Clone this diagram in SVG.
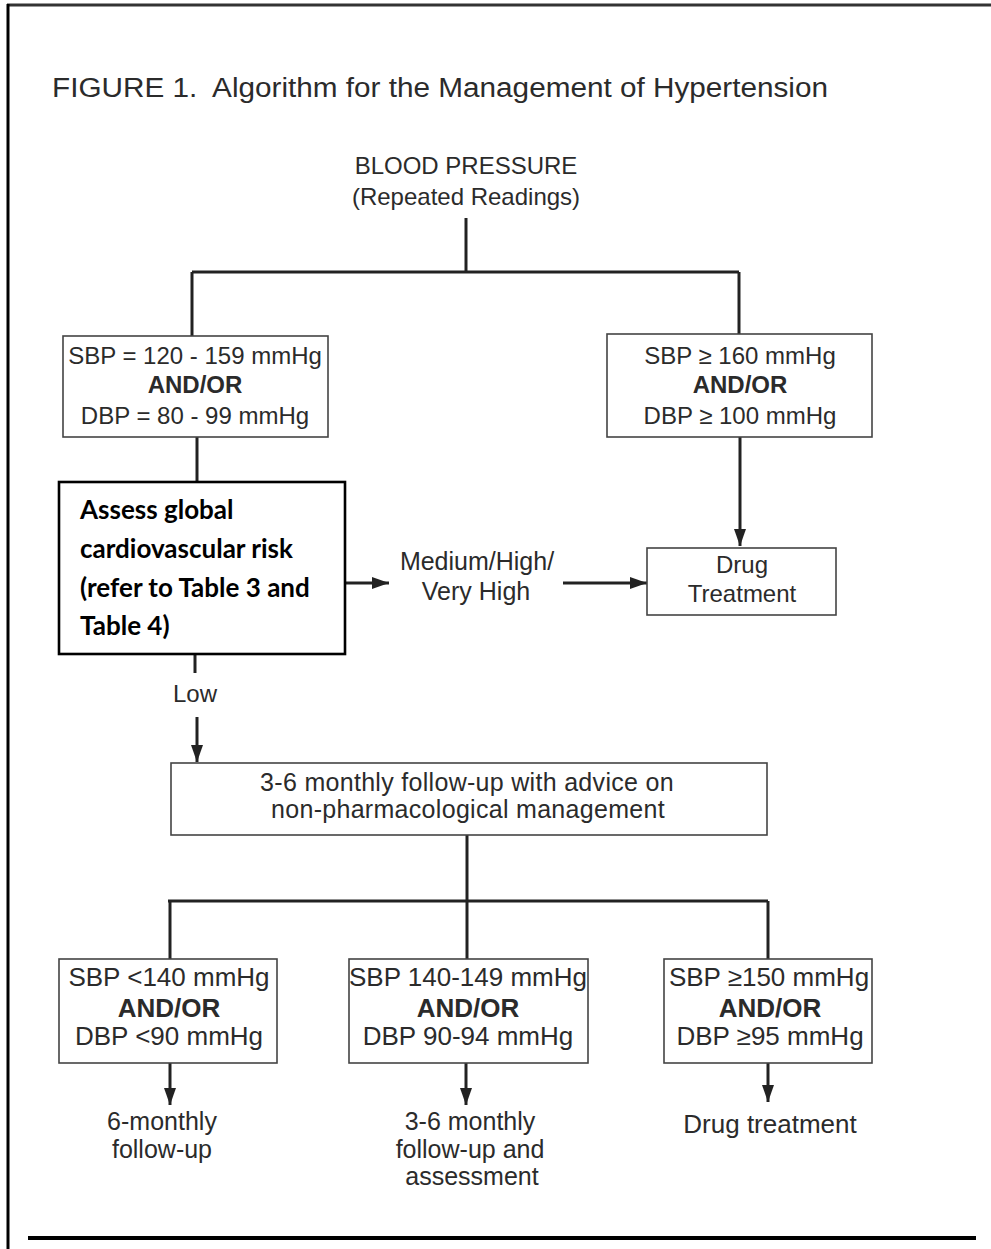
<svg xmlns="http://www.w3.org/2000/svg" width="991" height="1249" viewBox="0 0 991 1249">
  <defs>
    <marker id="arrow" markerUnits="userSpaceOnUse" markerWidth="18" markerHeight="14" refX="17" refY="7" orient="auto">
      <path d="M0,1 L17,7 L0,13 Z" fill="#222"/>
    </marker>
    <style>
      .t { font-family: "Liberation Sans", Arial, sans-serif; fill: #2b2b2b; text-anchor: middle; }
      .b { font-weight: bold; }
      .box { fill: #fff; stroke: #444; stroke-width: 1.6; }
      .conn { fill: none; stroke: #222; stroke-width: 3; }
      .assess { font-family: Lato, "Open Sans", sans-serif; font-weight: bold; fill: #000; font-size: 26px; }
    </style>
  </defs>

  <rect width="991" height="1249" fill="#fff"/>

  <!-- frame -->
  <g id="frame">
    <line x1="7" y1="5" x2="991" y2="5" stroke="#333" stroke-width="3"/>
    <line x1="8" y1="4" x2="8" y2="1249" stroke="#000" stroke-width="3"/>
    <line x1="28" y1="1238" x2="976" y2="1238" stroke="#000" stroke-width="4"/>
  </g>

  <text id="title" class="t" x="52" y="97" font-size="27" style="text-anchor:start" xml:space="preserve" textLength="776" lengthAdjust="spacingAndGlyphs">FIGURE 1.  Algorithm for the Management of Hypertension</text>

  <!-- connectors -->
  <g id="connectors" class="conn">
    <path d="M466,218 V272"/>
    <path d="M192,272 H739"/>
    <path d="M192,272 V336"/>
    <path d="M739,272 V334"/>
    <path d="M197,437 V482"/>
    <path d="M740,437 V546" marker-end="url(#arrow)"/>
    <path d="M345,583 H389" marker-end="url(#arrow)"/>
    <path d="M563,583 H647" marker-end="url(#arrow)"/>
    <path d="M195,654 V673"/>
    <path d="M197,717 V762" marker-end="url(#arrow)"/>
    <path d="M467,835 V959"/>
    <path d="M168,901 H768"/>
    <path d="M170,901 V959"/>
    <path d="M768,901 V959"/>
    <path d="M170,1063 V1105" marker-end="url(#arrow)"/>
    <path d="M466,1063 V1105" marker-end="url(#arrow)"/>
    <path d="M768,1063 V1102" marker-end="url(#arrow)"/>
  </g>

  <!-- nodes -->
  <g id="blood-pressure" class="t" font-size="24">
    <text x="466" y="174">BLOOD PRESSURE</text>
    <text x="466" y="205">(Repeated Readings)</text>
  </g>

  <g id="sbp-120-159">
    <rect class="box" x="63" y="336" width="265" height="101"/>
    <g class="t" font-size="24">
      <text x="195" y="364">SBP = 120 - 159 mmHg</text>
      <text x="195" y="393" class="t b">AND/OR</text>
      <text x="195" y="424">DBP = 80 - 99 mmHg</text>
    </g>
  </g>

  <g id="sbp-160">
    <rect class="box" x="607" y="334" width="265" height="103"/>
    <g class="t" font-size="24">
      <text x="740" y="364">SBP ≥ 160 mmHg</text>
      <text x="740" y="393" class="t b">AND/OR</text>
      <text x="740" y="424">DBP ≥ 100 mmHg</text>
    </g>
  </g>

  <g id="assess-risk">
    <rect x="59" y="482" width="286" height="172" fill="#fff" stroke="#000" stroke-width="2.6"/>
    <text class="assess" x="80" y="519">Assess global</text>
    <text class="assess" x="80" y="558">cardiovascular risk</text>
    <text class="assess" x="80" y="597">(refer to Table 3 and</text>
    <text class="assess" x="80" y="635">Table 4)</text>
  </g>

  <g id="risk-high" class="t" font-size="25">
    <text x="477" y="570">Medium/High/</text>
    <text x="476" y="600">Very High</text>
  </g>

  <g id="drug-treatment">
    <rect class="box" x="647" y="548" width="189" height="67"/>
    <g class="t" font-size="24">
      <text x="742" y="573">Drug</text>
      <text x="742" y="602">Treatment</text>
    </g>
  </g>

  <g id="risk-low" class="t" font-size="24">
    <text x="195" y="702">Low</text>
  </g>

  <g id="follow-up">
    <rect class="box" x="171" y="763" width="596" height="72"/>
    <g class="t" font-size="25" letter-spacing="0.3">
      <text x="467" y="791">3-6 monthly follow-up with advice on</text>
      <text x="468" y="818">non-pharmacological management</text>
    </g>
  </g>

  <g id="bp-below-140">
    <rect class="box" x="59" y="959" width="218" height="104"/>
    <g class="t" font-size="26">
      <text x="169" y="986">SBP &lt;140 mmHg</text>
      <text x="169" y="1017" class="t b">AND/OR</text>
      <text x="169" y="1045">DBP &lt;90 mmHg</text>
    </g>
  </g>

  <g id="bp-140-149">
    <rect class="box" x="349" y="959" width="239" height="104"/>
    <g class="t" font-size="26">
      <text x="468" y="986">SBP 140-149 mmHg</text>
      <text x="468" y="1017" class="t b">AND/OR</text>
      <text x="468" y="1045">DBP 90-94 mmHg</text>
    </g>
  </g>

  <g id="bp-150-plus">
    <rect class="box" x="664" y="959" width="208" height="104"/>
    <g class="t" font-size="26">
      <text x="769" y="986">SBP ≥150 mmHg</text>
      <text x="770" y="1017" class="t b">AND/OR</text>
      <text x="770" y="1045">DBP ≥95 mmHg</text>
    </g>
  </g>

  <g id="out-6-monthly" class="t" font-size="25">
    <text x="162" y="1130">6-monthly</text>
    <text x="162" y="1158">follow-up</text>
  </g>

  <g id="out-3-6-monthly" class="t" font-size="25">
    <text x="470" y="1130">3-6 monthly</text>
    <text x="470" y="1158">follow-up and</text>
    <text x="472" y="1185">assessment</text>
  </g>

  <g id="out-drug" class="t" font-size="26">
    <text x="770" y="1133">Drug treatment</text>
  </g>
</svg>
